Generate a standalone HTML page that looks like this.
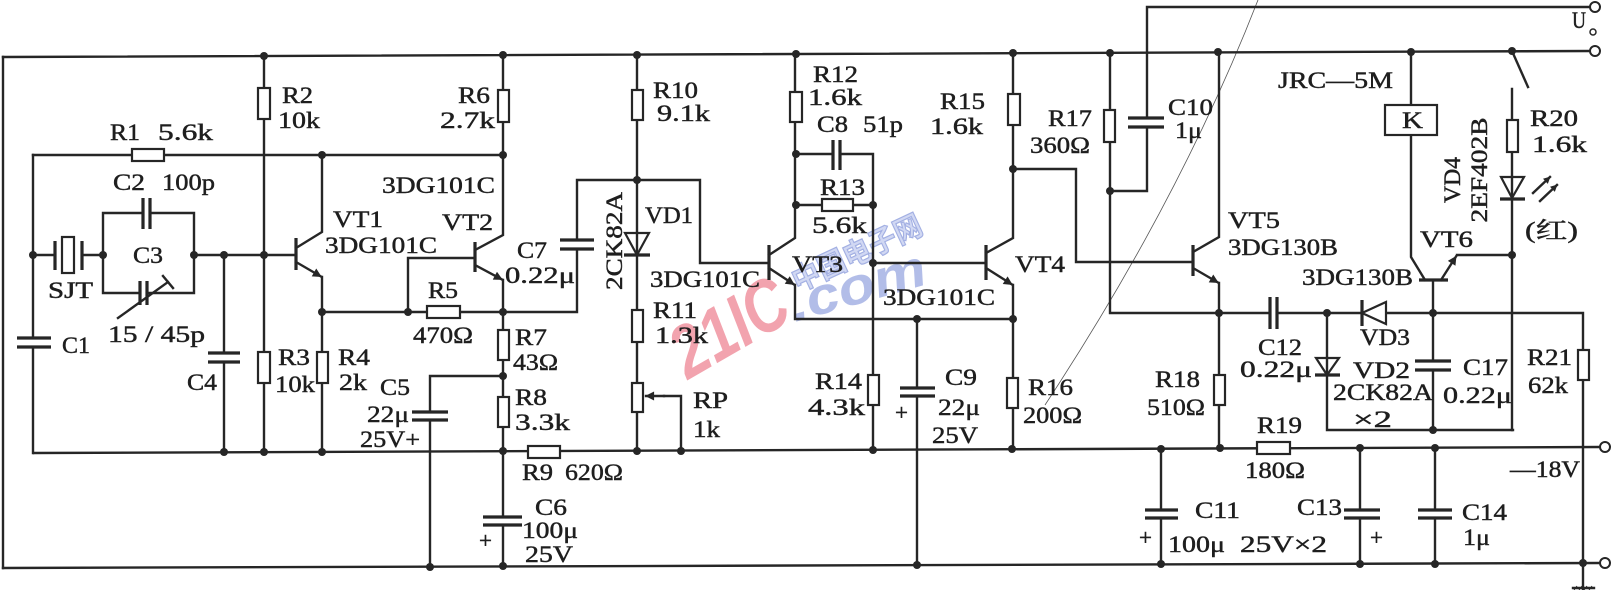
<!DOCTYPE html>
<html>
<head>
<meta charset="utf-8">
<style>
  html,body{margin:0;padding:0;background:#fff;}
  svg{display:block;}
  .w{stroke:#262626;stroke-width:2.4;fill:none;stroke-linecap:square;}
  .p{stroke:#262626;stroke-width:3.2;fill:none;}
  .r{stroke:#262626;stroke-width:2.2;fill:#fff;}
  .d{fill:#262626;}
  text{font-family:"Liberation Serif","Noto Serif CJK SC",serif;font-size:23px;fill:#1e1e1e;stroke:#1e1e1e;stroke-width:0.45;}
</style>
</head>
<body>
<svg width="1614" height="590" viewBox="0 0 1614 590" xmlns="http://www.w3.org/2000/svg">
<defs>
  <marker id="ar" viewBox="0 0 10 10" refX="9" refY="5" markerWidth="11" markerHeight="9" markerUnits="userSpaceOnUse" orient="auto">
    <path d="M0,0 L10,5 L0,10 z" fill="#262626"/>
  </marker>
  <marker id="ars" viewBox="0 0 10 10" refX="9" refY="5" markerWidth="8" markerHeight="7" markerUnits="userSpaceOnUse" orient="auto">
    <path d="M0,0 L10,5 L0,10 z" fill="#262626"/>
  </marker>
</defs>
<rect width="1614" height="590" fill="#fff"/>

<!-- watermark -->
<g opacity="0.9">
  <text x="798" y="292" transform="rotate(-25 798 292)" textLength="140" lengthAdjust="spacingAndGlyphs" style="font-family:'Noto Sans CJK SC',sans-serif;font-size:30px;font-weight:bold;fill:#cdd4f2;stroke:#9aa8e0;stroke-width:1.2;">中国电子网</text>
  <text x="795" y="322" transform="rotate(-16 795 322)" textLength="140" lengthAdjust="spacingAndGlyphs" style="font-family:'Liberation Sans',sans-serif;font-size:52px;font-weight:bold;font-style:italic;fill:#aab6e6;stroke:none;">.com</text>
  <text x="688" y="380" transform="rotate(-30 688 380)" textLength="124" lengthAdjust="spacingAndGlyphs" style="font-family:'Liberation Sans',sans-serif;font-size:74px;font-weight:bold;font-style:italic;fill:#f19aa6;stroke:none;">21IC</text>
</g>

<!-- thin scan artifact curve -->
<path d="M1258,0 Q1180,200 1045,405" stroke="#555" stroke-width="0.8" fill="none"/>

<!-- rails -->
<path class="w" d="M3,57 L1590,51"/>
<path class="w" d="M3,57 V568"/>
<path class="w" d="M3,568 L1600,563"/>
<path class="w" d="M34,453 L1600,447"/>

<!-- C10 / Uo line -->
<path class="w" d="M1110,191 H1147 V127"/>
<path class="w" d="M1147,118 V7 H1590"/>
<path class="p" d="M1128,118 H1164 M1128,127 H1164"/>

<!-- R1 line & C1 -->
<path class="w" d="M33,155 H503"/>
<path class="w" d="M33,155 V338"/>
<path class="p" d="M17,338 H51 M17,347 H51"/>
<path class="w" d="M33,347 V453"/>
<rect class="r" x="132" y="149" width="32" height="12"/>

<!-- crystal -->
<path class="w" d="M33,255 H55"/>
<path class="p" d="M55,241 V270 M82,241 V270"/>
<rect class="r" x="62" y="237" width="12" height="36"/>
<path class="w" d="M82,255 H103"/>

<!-- C2/C3 box -->
<path class="w" d="M103,255 V213 H143 M150,213 H194 V255"/>
<path class="p" d="M143,198 V229 M150,198 V229"/>
<path class="w" d="M103,255 V293 H140 M147,293 H194 V255"/>
<path class="p" d="M140,281 V305 M147,281 V305"/>
<path class="w" d="M118,318 L168,282"/>
<path class="w" d="M163,276 L173,288"/>

<!-- base line VT1 -->
<path class="w" d="M194,255 H296"/>

<!-- C4 -->
<path class="w" d="M224,255 V353"/>
<path class="p" d="M208,353 H240 M208,362 H240"/>
<path class="w" d="M224,362 V452"/>

<!-- R2 / R3 -->
<path class="w" d="M264,56 V452"/>
<rect class="r" x="258" y="88" width="12" height="31"/>
<rect class="r" x="258" y="352" width="12" height="31"/>

<!-- VT1 -->
<path class="p" d="M296,238 V270"/>
<path class="w" d="M296,248 L322,232 V155"/>
<line class="w" x1="296" y1="262" x2="321" y2="276.5" marker-end="url(#ar)"/>
<path class="w" d="M322,277 V452"/>
<rect class="r" x="317" y="352" width="11" height="31"/>

<!-- R5 line to C7 -->
<path class="w" d="M322,312 H577 V249"/>
<rect class="r" x="427" y="306" width="33" height="12"/>
<path class="p" d="M560,249 H594 M560,240 H594"/>
<path class="w" d="M577,240 V180 H700 V263 H769"/>

<!-- VT2 -->
<path class="w" d="M408,312 V258 H475"/>
<path class="p" d="M475,242 V272"/>
<path class="w" d="M475,250 L503,235 V55"/>
<rect class="r" x="498" y="90" width="11" height="32"/>
<line class="w" x1="475" y1="265" x2="502" y2="279.5" marker-end="url(#ar)"/>
<path class="w" d="M503,280 V517"/>
<rect class="r" x="498" y="330" width="11" height="30"/>
<rect class="r" x="498" y="397" width="11" height="30"/>
<path class="p" d="M483,517 H522 M483,525 H522"/>
<path class="w" d="M503,525 V566"/>

<!-- C5 -->
<path class="w" d="M503,376 H430 V412"/>
<path class="p" d="M412,412 H448 M412,420 H448"/>
<path class="w" d="M430,420 V567"/>

<!-- R9 -->
<rect class="r" x="528" y="446" width="32" height="12"/>

<!-- R10 / VD1 / R11 / RP -->
<path class="w" d="M637,55 V451"/>
<rect class="r" x="632" y="90" width="11" height="30"/>
<polygon points="625,233 649,233 637,255" fill="#fff" stroke="#262626" stroke-width="2.2"/>
<path class="w" d="M637,233 V255"/>
<path class="p" d="M624,255 H650"/>
<rect class="r" x="632" y="310" width="11" height="32"/>
<rect class="r" x="632" y="383" width="11" height="29"/>
<path class="w" d="M681,451 V396 H664"/>
<line class="w" x1="664" y1="396" x2="646" y2="396" marker-end="url(#ar)"/>

<!-- VT3 -->
<path class="p" d="M769,245 V280"/>
<path class="w" d="M769,255 L795,238 V54"/>
<rect class="r" x="790" y="92" width="12" height="30"/>
<line class="w" x1="769" y1="268" x2="794" y2="284.5" marker-end="url(#ar)"/>
<path class="w" d="M795,285 V319 H1013"/>

<!-- C8 / R13 -->
<path class="w" d="M795,154 H833"/>
<path class="p" d="M833,140 V170 M840,140 V170"/>
<path class="w" d="M840,154 H873 V450"/>
<path class="w" d="M795,205 H873"/>
<rect class="r" x="822" y="199" width="31" height="12"/>
<rect class="r" x="868" y="375" width="11" height="30"/>

<!-- VT4 -->
<path class="w" d="M873,263 H986"/>
<path class="p" d="M986,245 V280"/>
<path class="w" d="M986,253 L1013,238 V53"/>
<rect class="r" x="1008" y="94" width="12" height="31"/>
<line class="w" x1="986" y1="268" x2="1012" y2="284.5" marker-end="url(#ar)"/>
<path class="w" d="M1013,285 V449"/>
<rect class="r" x="1007" y="378" width="11" height="30"/>

<!-- C9 -->
<path class="w" d="M917,319 V388"/>
<path class="p" d="M900,388 H935 M900,396 H935"/>
<path class="w" d="M917,396 V565"/>

<!-- VT4 out to VT5 -->
<path class="w" d="M1013,169 H1076 V262 H1193"/>

<!-- R17 and line y=313 -->
<path class="w" d="M1110,53 V313 H1270"/>
<rect class="r" x="1104" y="110" width="11" height="32"/>
<path class="p" d="M1270,297 V329 M1277,297 V329"/>
<path class="w" d="M1277,313 H1583 V590"/>
<polygon points="1386,302 1386,324 1362,313" fill="#fff" stroke="#262626" stroke-width="2.2"/>
<path class="p" d="M1362,300 V326"/>
<rect class="r" x="1578" y="350" width="11" height="30"/>
<path class="w" d="M1573,588 H1594" stroke-width="1.5"/>
<path d="M1574,590 L1577,586 M1579,590 L1582,586 M1584,590 L1587,586 M1589,590 L1592,586" stroke="#262626" stroke-width="1"/>

<!-- VT5 -->
<path class="p" d="M1193,245 V276"/>
<path class="w" d="M1193,252 L1219,237 V52"/>
<line class="w" x1="1193" y1="268" x2="1218" y2="282.5" marker-end="url(#ar)"/>
<path class="w" d="M1219,283 V448"/>
<rect class="r" x="1214" y="375" width="11" height="30"/>

<!-- C11 -->
<path class="w" d="M1161,449 V510"/>
<path class="p" d="M1145,510 H1178 M1145,518 H1178"/>
<path class="w" d="M1161,518 V564"/>

<!-- VD2 & C17 -->
<path class="w" d="M1327,313 V430 H1513"/>
<polygon points="1316,358 1339,358 1327,375" fill="#fff" stroke="#262626" stroke-width="2.2"/>
<path class="w" d="M1327,358 V375"/>
<path class="p" d="M1315,375 H1340"/>
<path class="w" d="M1433,313 V361"/>
<path class="p" d="M1415,361 H1451 M1415,370 H1451"/>
<path class="w" d="M1433,370 V430"/>

<!-- VT6 & relay -->
<path class="w" d="M1433,313 V280"/>
<path class="p" d="M1419,280 H1448"/>
<path class="w" d="M1425,280 L1411,257 V52"/>
<rect class="r" x="1385" y="105" width="52" height="30"/>
<line class="w" x1="1441" y1="280" x2="1456" y2="256.5" marker-end="url(#ar)"/>
<path class="w" d="M1457,255 H1512"/>

<!-- switch, R20, LED -->
<path class="w" d="M1512,51 L1528,87"/>
<path class="w" d="M1512,89 V430"/>
<rect class="r" x="1507" y="120" width="11" height="32"/>
<polygon points="1501,177 1524,177 1512,198" fill="#fff" stroke="#262626" stroke-width="2.2"/>
<path class="w" d="M1512,177 V198"/>
<path class="p" d="M1500,199 H1525"/>
<line class="w" x1="1533" y1="193" x2="1550" y2="177" stroke-width="1.8" marker-end="url(#ars)"/>
<line class="w" x1="1540" y1="201" x2="1557" y2="185" stroke-width="1.8" marker-end="url(#ars)"/>

<!-- R19, C13, C14 -->
<rect class="r" x="1257" y="442" width="33" height="12"/>
<path class="w" d="M1360,448 V510"/>
<path class="p" d="M1344,510 H1380 M1344,518 H1380"/>
<path class="w" d="M1360,518 V564"/>
<path class="w" d="M1435,448 V510"/>
<path class="p" d="M1418,510 H1452 M1418,518 H1452"/>
<path class="w" d="M1435,518 V564"/>

<!-- dots -->
<g class="d">
  <circle cx="264" cy="56" r="4"/><circle cx="503" cy="55" r="4"/><circle cx="637" cy="55" r="4"/>
  <circle cx="796" cy="54" r="4"/><circle cx="1013" cy="53" r="4"/><circle cx="1110" cy="53" r="4"/>
  <circle cx="1218" cy="52" r="4"/><circle cx="1411" cy="52" r="4"/><circle cx="1512" cy="51" r="4"/>
  <circle cx="33" cy="255" r="4"/><circle cx="103" cy="255" r="4"/><circle cx="194" cy="255" r="4"/>
  <circle cx="224" cy="255" r="4"/><circle cx="264" cy="255" r="4"/><circle cx="322" cy="155" r="4"/>
  <circle cx="503" cy="155" r="4"/><circle cx="322" cy="312" r="4"/><circle cx="408" cy="312" r="4"/>
  <circle cx="503" cy="312" r="4"/><circle cx="503" cy="376" r="4"/><circle cx="637" cy="180" r="4"/>
  <circle cx="796" cy="154" r="4"/><circle cx="796" cy="205" r="4"/><circle cx="873" cy="205" r="4"/>
  <circle cx="873" cy="263" r="4"/><circle cx="1013" cy="169" r="4"/><circle cx="917" cy="319" r="4"/>
  <circle cx="1013" cy="319" r="4"/><circle cx="1110" cy="191" r="4"/><circle cx="1219" cy="313" r="4"/>
  <circle cx="1327" cy="313" r="4"/><circle cx="1433" cy="313" r="4"/><circle cx="1433" cy="430" r="4"/>
  <circle cx="1512" cy="255" r="4"/>
  <circle cx="224" cy="452" r="4"/><circle cx="264" cy="452" r="4"/><circle cx="322" cy="452" r="4"/>
  <circle cx="503" cy="451" r="4"/><circle cx="637" cy="451" r="4"/><circle cx="681" cy="451" r="4"/>
  <circle cx="873" cy="450" r="4"/><circle cx="1012" cy="449" r="4"/><circle cx="1161" cy="449" r="4"/>
  <circle cx="1220" cy="448" r="4"/><circle cx="1360" cy="448" r="4"/><circle cx="1435" cy="448" r="4"/>
  <circle cx="430" cy="567" r="4"/><circle cx="503" cy="566" r="4"/><circle cx="917" cy="565" r="4"/>
  <circle cx="1161" cy="564" r="4"/><circle cx="1360" cy="564" r="4"/><circle cx="1435" cy="564" r="4"/>
  <circle cx="1583" cy="563" r="4"/>
</g>

<!-- terminals -->
<g fill="#fff" stroke="#262626" stroke-width="2">
  <circle cx="1595" cy="7" r="5"/><circle cx="1595" cy="51" r="5"/>
  <circle cx="1605" cy="447" r="5"/><circle cx="1605" cy="563" r="5"/>
  <circle cx="1593" cy="32" r="3" stroke-width="1.5"/>
</g>

<!-- labels -->
<g>
  <text x="110" y="140" textLength="30" lengthAdjust="spacingAndGlyphs">R1</text>
  <text x="158" y="140" textLength="55" lengthAdjust="spacingAndGlyphs">5.6k</text>
  <text x="282" y="103" textLength="31" lengthAdjust="spacingAndGlyphs">R2</text>
  <text x="278" y="128" textLength="42" lengthAdjust="spacingAndGlyphs">10k</text>
  <text x="113" y="190" textLength="32" lengthAdjust="spacingAndGlyphs">C2</text>
  <text x="162" y="190" textLength="53" lengthAdjust="spacingAndGlyphs">100p</text>
  <text x="333" y="227" textLength="50" lengthAdjust="spacingAndGlyphs">VT1</text>
  <text x="325" y="253" textLength="112" lengthAdjust="spacingAndGlyphs">3DG101C</text>
  <text x="133" y="263" textLength="30" lengthAdjust="spacingAndGlyphs">C3</text>
  <text x="48" y="298" textLength="45" lengthAdjust="spacingAndGlyphs">SJT</text>
  <text x="108" y="342" textLength="97" lengthAdjust="spacingAndGlyphs">15 / 45p</text>
  <text x="62" y="353" textLength="28" lengthAdjust="spacingAndGlyphs">C1</text>
  <text x="187" y="390" textLength="30" lengthAdjust="spacingAndGlyphs">C4</text>
  <text x="278" y="365" textLength="32" lengthAdjust="spacingAndGlyphs">R3</text>
  <text x="275" y="392" textLength="40" lengthAdjust="spacingAndGlyphs">10k</text>
  <text x="338" y="365" textLength="32" lengthAdjust="spacingAndGlyphs">R4</text>
  <text x="339" y="390" textLength="28" lengthAdjust="spacingAndGlyphs">2k</text>
  <text x="380" y="395" textLength="30" lengthAdjust="spacingAndGlyphs">C5</text>
  <text x="367" y="422" textLength="42" lengthAdjust="spacingAndGlyphs">22μ</text>
  <text x="360" y="447" textLength="60" lengthAdjust="spacingAndGlyphs">25V+</text>
  <text x="458" y="103" textLength="32" lengthAdjust="spacingAndGlyphs">R6</text>
  <text x="440" y="128" textLength="55" lengthAdjust="spacingAndGlyphs">2.7k</text>
  <text x="382" y="193" textLength="113" lengthAdjust="spacingAndGlyphs">3DG101C</text>
  <text x="442" y="230" textLength="51" lengthAdjust="spacingAndGlyphs">VT2</text>
  <text x="428" y="298" textLength="30" lengthAdjust="spacingAndGlyphs">R5</text>
  <text x="413" y="343" textLength="60" lengthAdjust="spacingAndGlyphs">470Ω</text>
  <text x="517" y="258" textLength="30" lengthAdjust="spacingAndGlyphs">C7</text>
  <text x="505" y="283" textLength="70" lengthAdjust="spacingAndGlyphs">0.22μ</text>
  <text x="653" y="98" textLength="45" lengthAdjust="spacingAndGlyphs">R10</text>
  <text x="657" y="121" textLength="53" lengthAdjust="spacingAndGlyphs">9.1k</text>
  <text transform="translate(622,241) rotate(-90)" text-anchor="middle" textLength="98" lengthAdjust="spacingAndGlyphs">2CK82A</text>
  <text x="645" y="223" textLength="48" lengthAdjust="spacingAndGlyphs">VD1</text>
  <text x="650" y="287" textLength="110" lengthAdjust="spacingAndGlyphs">3DG101C</text>
  <text x="515" y="345" textLength="32" lengthAdjust="spacingAndGlyphs">R7</text>
  <text x="513" y="370" textLength="45" lengthAdjust="spacingAndGlyphs">43Ω</text>
  <text x="515" y="405" textLength="32" lengthAdjust="spacingAndGlyphs">R8</text>
  <text x="515" y="430" textLength="55" lengthAdjust="spacingAndGlyphs">3.3k</text>
  <text x="522" y="480" textLength="31" lengthAdjust="spacingAndGlyphs">R9</text>
  <text x="565" y="480" textLength="58" lengthAdjust="spacingAndGlyphs">620Ω</text>
  <text x="535" y="515" textLength="32" lengthAdjust="spacingAndGlyphs">C6</text>
  <text x="522" y="538" textLength="56" lengthAdjust="spacingAndGlyphs">100μ</text>
  <text x="525" y="562" textLength="48" lengthAdjust="spacingAndGlyphs">25V</text>
  <text x="479" y="548">+</text>
  <text x="653" y="318" textLength="44" lengthAdjust="spacingAndGlyphs">R11</text>
  <text x="655" y="343" textLength="53" lengthAdjust="spacingAndGlyphs">1.3k</text>
  <text x="693" y="408" textLength="35" lengthAdjust="spacingAndGlyphs">RP</text>
  <text x="693" y="437" textLength="27" lengthAdjust="spacingAndGlyphs">1k</text>
  <text x="813" y="82" textLength="45" lengthAdjust="spacingAndGlyphs">R12</text>
  <text x="808" y="105" textLength="54" lengthAdjust="spacingAndGlyphs">1.6k</text>
  <text x="817" y="132" textLength="31" lengthAdjust="spacingAndGlyphs">C8</text>
  <text x="863" y="132" textLength="40" lengthAdjust="spacingAndGlyphs">51p</text>
  <text x="820" y="195" textLength="45" lengthAdjust="spacingAndGlyphs">R13</text>
  <text x="812" y="233" textLength="55" lengthAdjust="spacingAndGlyphs">5.6k</text>
  <text x="940" y="109" textLength="45" lengthAdjust="spacingAndGlyphs">R15</text>
  <text x="930" y="134" textLength="53" lengthAdjust="spacingAndGlyphs">1.6k</text>
  <text x="1048" y="126" textLength="44" lengthAdjust="spacingAndGlyphs">R17</text>
  <text x="1030" y="153" textLength="60" lengthAdjust="spacingAndGlyphs">360Ω</text>
  <text x="1168" y="115" textLength="45" lengthAdjust="spacingAndGlyphs">C10</text>
  <text x="1175" y="138" textLength="27" lengthAdjust="spacingAndGlyphs">1μ</text>
  <text x="792" y="272" textLength="51" lengthAdjust="spacingAndGlyphs">VT3</text>
  <text x="1015" y="272" textLength="50" lengthAdjust="spacingAndGlyphs">VT4</text>
  <text x="883" y="305" textLength="112" lengthAdjust="spacingAndGlyphs">3DG101C</text>
  <text x="815" y="389" textLength="47" lengthAdjust="spacingAndGlyphs">R14</text>
  <text x="808" y="415" textLength="57" lengthAdjust="spacingAndGlyphs">4.3k</text>
  <text x="945" y="385" textLength="32" lengthAdjust="spacingAndGlyphs">C9</text>
  <text x="938" y="415" textLength="42" lengthAdjust="spacingAndGlyphs">22μ</text>
  <text x="932" y="443" textLength="46" lengthAdjust="spacingAndGlyphs">25V</text>
  <text x="895" y="420">+</text>
  <text x="1028" y="395" textLength="45" lengthAdjust="spacingAndGlyphs">R16</text>
  <text x="1023" y="423" textLength="59" lengthAdjust="spacingAndGlyphs">200Ω</text>
  <text x="1155" y="387" textLength="45" lengthAdjust="spacingAndGlyphs">R18</text>
  <text x="1147" y="415" textLength="58" lengthAdjust="spacingAndGlyphs">510Ω</text>
  <text x="1195" y="518" textLength="45" lengthAdjust="spacingAndGlyphs">C11</text>
  <text x="1168" y="552" textLength="57" lengthAdjust="spacingAndGlyphs">100μ</text>
  <text x="1240" y="552" textLength="87" lengthAdjust="spacingAndGlyphs">25V×2</text>
  <text x="1139" y="545">+</text>
  <text x="1278" y="88" textLength="115" lengthAdjust="spacingAndGlyphs">JRC—5M</text>
  <text x="1402" y="128" textLength="21" lengthAdjust="spacingAndGlyphs">K</text>
  <text x="1530" y="126" textLength="48" lengthAdjust="spacingAndGlyphs">R20</text>
  <text x="1532" y="152" textLength="55" lengthAdjust="spacingAndGlyphs">1.6k</text>
  <text transform="translate(1460,180) rotate(-90)" text-anchor="middle" textLength="46" lengthAdjust="spacingAndGlyphs">VD4</text>
  <text transform="translate(1487,170) rotate(-90)" text-anchor="middle" textLength="105" lengthAdjust="spacingAndGlyphs">2EF402B</text>
  <text x="1525" y="238" textLength="53" lengthAdjust="spacingAndGlyphs">(红)</text>
  <text x="1228" y="228" textLength="52" lengthAdjust="spacingAndGlyphs">VT5</text>
  <text x="1228" y="255" textLength="110" lengthAdjust="spacingAndGlyphs">3DG130B</text>
  <text x="1420" y="247" textLength="53" lengthAdjust="spacingAndGlyphs">VT6</text>
  <text x="1302" y="285" textLength="111" lengthAdjust="spacingAndGlyphs">3DG130B</text>
  <text x="1572" y="28" textLength="14" lengthAdjust="spacingAndGlyphs">U</text>
  <text x="1360" y="345" textLength="50" lengthAdjust="spacingAndGlyphs">VD3</text>
  <text x="1258" y="355" textLength="44" lengthAdjust="spacingAndGlyphs">C12</text>
  <text x="1240" y="377" textLength="72" lengthAdjust="spacingAndGlyphs">0.22μ</text>
  <text x="1353" y="378" textLength="57" lengthAdjust="spacingAndGlyphs">VD2</text>
  <text x="1333" y="400" textLength="100" lengthAdjust="spacingAndGlyphs">2CK82A</text>
  <text x="1353" y="427" textLength="39" lengthAdjust="spacingAndGlyphs">×2</text>
  <text x="1463" y="375" textLength="45" lengthAdjust="spacingAndGlyphs">C17</text>
  <text x="1443" y="403" textLength="69" lengthAdjust="spacingAndGlyphs">0.22μ</text>
  <text x="1527" y="365" textLength="45" lengthAdjust="spacingAndGlyphs">R21</text>
  <text x="1528" y="393" textLength="40" lengthAdjust="spacingAndGlyphs">62k</text>
  <text x="1257" y="433" textLength="45" lengthAdjust="spacingAndGlyphs">R19</text>
  <text x="1245" y="478" textLength="60" lengthAdjust="spacingAndGlyphs">180Ω</text>
  <text x="1510" y="477" textLength="70" lengthAdjust="spacingAndGlyphs">—18V</text>
  <text x="1297" y="515" textLength="45" lengthAdjust="spacingAndGlyphs">C13</text>
  <text x="1370" y="545">+</text>
  <text x="1462" y="520" textLength="45" lengthAdjust="spacingAndGlyphs">C14</text>
  <text x="1463" y="545" textLength="27" lengthAdjust="spacingAndGlyphs">1μ</text>
</g>
</svg>
</body>
</html>
